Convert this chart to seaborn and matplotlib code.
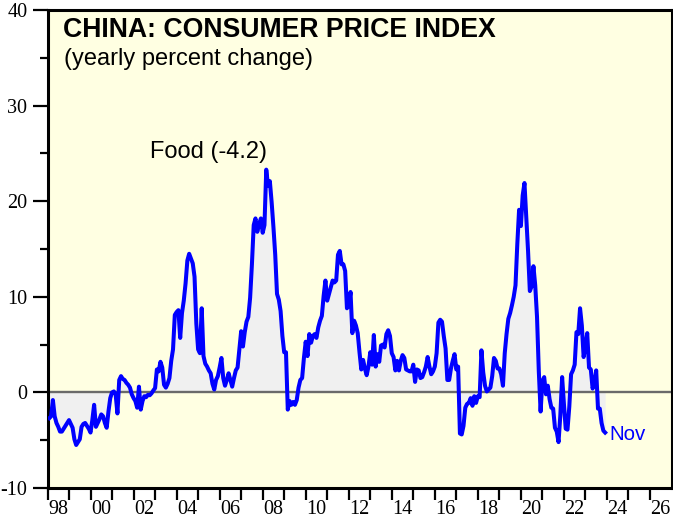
import numpy as np
import pandas as pd
import matplotlib
matplotlib.use("Agg")
import matplotlib.pyplot as plt
import seaborn as sns
from matplotlib.ticker import FixedLocator, MultipleLocator, NullFormatter

# ---------------- data: China food CPI, yearly % change, monthly from Jan 1998 ----------------
start_year = 1998
food_1998_2003 = [
    -2.7, -2.5, -0.8, -2.5, -3.2, -3.6, -4.1, -4.1, -3.8, -3.5, -3.2, -2.9,   # 1998
    -3.3, -3.7, -4.9, -5.5, -5.2, -4.9, -3.6, -3.3, -3.2, -3.5, -3.8, -4.2,   # 1999
    -2.9, -1.3, -3.6, -3.2, -2.8, -2.3, -2.5, -3.2, -3.7, -2.0, -0.6, 0.0,    # 2000
    0.1, -0.2, -2.2, 1.3, 1.7, 1.4, 1.3, 1.0, 0.8, 0.5, -0.2, -0.6,           # 2001
    -0.9, -1.6, 0.6, -1.8, -0.9, -0.4, -0.5, -0.25, -0.3, -0.1, 0.2, 0.45,    # 2002
    2.4, 2.2, 3.2, 2.6, 0.8, 0.5, 0.9, 1.5, 3.3, 4.5, 8.1, 8.4,              # 2003
]
food_2004_2009 = [
    8.6, 5.7, 8.3, 9.6, 11.4, 13.8, 14.5, 14.0, 13.5, 12.1, 7.2, 4.5,        # 2004
    4.1, 8.8, 3.8, 3.0, 2.7, 2.3, 2.0, 0.9, 0.3, 1.3, 1.7, 2.6,              # 2005
    3.6, 1.5, 0.7, 1.3, 2.0, 1.3, 0.6, 1.5, 2.3, 2.6, 4.5, 6.4,              # 2006
    4.8, 6.3, 7.4, 7.9, 9.9, 13.4, 17.5, 18.2, 16.8, 17.6, 18.2, 16.7,       # 2007
    17.5, 23.3, 21.6, 22.1, 19.9, 17.3, 14.4, 10.3, 9.7, 8.5, 5.9, 4.2,      # 2008
    4.2, -1.8, -0.9, -1.3, -1.0, -1.3, -0.8, 0.5, 1.3, 1.5, 3.6, 5.3,        # 2009
]
food_2010_2015 = [
    3.8, 6.1, 5.2, 5.9, 6.1, 5.7, 6.8, 7.5, 8.0, 10.1, 11.7, 9.6,            # 2010
    10.3, 11.0, 11.7, 11.5, 11.7, 14.4, 14.8, 13.4, 13.4, 12.7, 8.8, 9.1,    # 2011
    10.5, 6.2, 7.5, 7.0, 6.2, 4.2, 2.4, 3.4, 2.5, 1.8, 2.7, 4.2,             # 2012
    2.9, 6.0, 2.7, 4.0, 3.2, 4.9, 5.0, 4.7, 6.1, 6.5, 5.9, 4.1,              # 2013
    3.7, 2.3, 3.3, 2.3, 3.3, 3.9, 3.6, 2.4, 2.3, 2.2, 2.2, 2.9,              # 2014
    1.1, 2.4, 2.3, 1.5, 1.6, 2.1, 2.7, 3.7, 2.7, 1.9, 2.2, 2.7,              # 2015
]
food_2016_2020 = [
    4.1, 7.3, 7.6, 7.4, 5.9, 4.6, 1.3, 1.3, 2.5, 3.3, 4.0, 2.4,              # 2016
    2.7, -4.3, -4.4, -3.5, -1.6, -1.2, -1.1, -0.6, -1.4, -0.4, -1.1, -0.4,   # 2017
    -0.5, 4.4, 2.1, 0.7, 0.1, 0.3, 0.5, 1.7, 3.6, 3.3, 2.5, 2.5,             # 2018
    1.9, 0.7, 4.1, 6.1, 7.7, 8.3, 9.1, 10.0, 11.2, 15.5, 19.1, 17.4,         # 2019
    20.6, 21.9, 18.3, 14.8, 10.6, 11.1, 13.2, 11.2, 7.9, 2.2, -2.0, 1.2,     # 2020
]
food_2021_2023 = [
    1.6, -0.2, 0.7, -0.7, -1.6, -1.7, -3.7, -4.1, -5.2, -2.4, 1.6, -1.2,     # 2021
    -3.8, -3.9, -1.5, 1.9, 2.3, 2.9, 6.3, 6.1, 8.8, 7.0, 3.7, 4.8,           # 2022
    6.2, 2.6, 2.4, 0.4, 1.0, 2.3, -1.7, -1.7, -3.2, -4.0, -4.2,              # 2023 (to Nov)
]

year_ticks = list(range(1998, 2027))
year_labels = ["98", "00", "02", "04", "06", "08", "10", "12", "14",
               "16", "18", "20", "22", "24", "26"]
y_ticks = [-10, 0, 10, 20, 30, 40]

title = "CHINA: CONSUMER PRICE INDEX"
subtitle = "(yearly percent change)"
series_label = "Food (-4.2)"
end_label = "Nov"

# ---------------- build frame ----------------
values = food_1998_2003 + food_2004_2009 + food_2010_2015 + food_2016_2020 + food_2021_2023
t = start_year + (np.arange(len(values)) + 1) / 12.0
df = pd.DataFrame({"t": t, "food": values})

# ---------------- figure ----------------
W, H = 673, 521
fig = plt.figure(figsize=(W / 100, H / 100), dpi=100)
fig.patch.set_facecolor("white")
L, R, T, B = 47.5, 671.5, 10.0, 488.0
ax = fig.add_axes([L / W, 1 - B / H, (R - L) / W, (B - T) / H])
ax.set_facecolor("#FFFFE2")

ax.fill_between(df["t"], df["food"], 0, color="#F0F0F0", lw=0, zorder=1)
ax.axhline(0, color="#6A6A6A", lw=1.7, zorder=2)
sns.lineplot(data=df, x="t", y="food", ax=ax, color="#0000FF", lw=2.9,
             zorder=3, legend=False, estimator=None, sort=False)

ax.set_xlim(1998, 2027)
ax.set_ylim(-10, 40)
ax.set_xlabel("")
ax.set_ylabel("")

for s in ax.spines.values():
    s.set_linewidth(2.2)
    s.set_color("black")

serif = ["Liberation Serif", "DejaVu Serif"]
sans = ["Liberation Sans", "DejaVu Sans"]

# y ticks
ax.yaxis.set_major_locator(FixedLocator(y_ticks))
ax.yaxis.set_minor_locator(MultipleLocator(5))
ax.set_yticklabels([str(v) for v in y_ticks], fontfamily=serif, fontsize=14.5)
ax.tick_params(axis="y", which="major", direction="out", length=11, width=1.6,
               pad=3.5, colors="black")
ax.tick_params(axis="y", which="minor", direction="out", length=5.5, width=1.6)

# x ticks: marks at year boundaries, labels mid-year of even years
ax.xaxis.set_major_locator(FixedLocator(year_ticks))
ax.xaxis.set_major_formatter(NullFormatter())
label_pos = [int("19" + s) if s >= "90" else int("20" + s) for s in year_labels]
ax.set_xticks([p + 0.5 for p in label_pos], labels=year_labels, minor=True)
for lab in ax.get_xticklabels(minor=True):
    lab.set_fontfamily(serif)
    lab.set_fontsize(14.5)
ax.tick_params(axis="x", which="major", direction="out", length=8.5, width=1.6)
ax.tick_params(axis="x", which="minor", length=0, pad=8.5)

# texts (pixel positions converted to figure fractions)
def fx(px):
    return px / W

def fy(py):
    return 1 - py / H

fig.text(fx(63), fy(36.5), title, fontfamily=sans, fontweight="bold",
         fontsize=19.2, va="baseline", ha="left")
fig.text(fx(63.5), fy(64.5), subtitle, fontfamily=sans, fontsize=17,
         va="baseline", ha="left")
fig.text(fx(150), fy(158), series_label, fontfamily=sans, fontsize=17,
         va="baseline", ha="left", color="black")
fig.text(fx(609.5), fy(440), end_label, fontfamily=sans, fontsize=14.8,
         va="baseline", ha="left", color="#0000FF")

fig.savefig("out.png", dpi=100)
